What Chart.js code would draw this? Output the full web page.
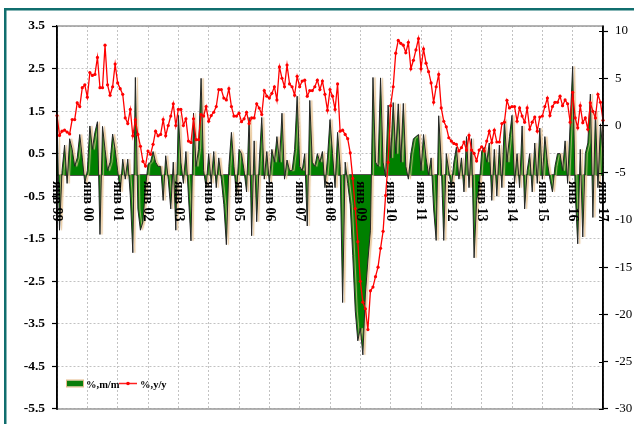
<!DOCTYPE html>
<html>
<head>
<meta charset="utf-8">
<script src="https://cdn.jsdelivr.net/npm/chart.js@4.4.0/dist/chart.umd.min.js"></script>
<style>
html,body{margin:0;padding:0;background:#fff;}
#wrap{width:634px;height:424px;position:relative;}
</style>
</head>
<body>
<div id="wrap"><canvas id="c" width="634" height="424"></canvas></div>
<script>
// ---- data ----
const monthNames = ['янв','фев','мар','апр','май','июн','июл','авг','сен','окт','ноя','дек'];
const categories = [];
for (let y = 1999; y <= 2017; y++) {
  for (let m = 0; m < 12; m++) {
    if (y === 2017 && m > 0) break;
    categories.push(monthNames[m] + ' ' + String(y % 100).padStart(2, '0'));
  }
}
const yearTickLabels = ['янв 99','янв 00','янв 01','янв 02','янв 03','янв 04','янв 05','янв 06','янв 07','янв 08','янв 09','янв 10','янв 11','янв 12','янв 13','янв 14','янв 15','янв 16','янв 17'];
const leftTicks = [-5.5,-4.5,-3.5,-2.5,-1.5,-0.5,0.5,1.5,2.5,3.5];
const rightTicks = [-30,-25,-20,-15,-10,-5,0,5,10];

// %, m/m (left axis)
const seriesMM = [
  1.4,-1.3,0.1,0.7,-0.2,0.85,0.6,0.2,0.4,0.95,0.4,-0.2,
  0.1,1.15,0.6,1.0,1.25,-1.4,1.14,0.6,0.1,0.3,0.96,0.6,
  0.1,-0.4,0.37,-0.1,0.37,-0.5,-1.83,2.29,-0.8,-1.3,-1.1,-0.3,
  0.25,0.3,0.55,0.3,0.2,0.2,-0.6,0.45,-0.1,-0.8,0.3,-1.3,
  1.4,0.3,-0.2,0.55,-0.5,-1.55,1.45,0.2,0.6,2.27,0.1,-0.3,
  0.5,-0.2,0.55,-0.3,0.4,-0.1,-0.7,-1.64,0.2,1.0,0.2,-0.5,
  0.6,0.5,0.1,-0.4,1.35,-1.43,0.8,-1.1,0.3,1.35,-0.1,0.55,
  -0.2,0.6,0.3,0.9,0.3,1.45,-0.1,0.35,0.1,0.1,0.6,1.85,
  0.2,0.1,0.5,-1.2,1.75,0.3,0.2,0.5,0.3,0.55,-0.3,0.4,
  1.3,0.5,-0.3,1.0,0.2,-3.0,0.3,-0.2,-0.7,-1.9,-3.2,-3.9,
  -3.6,-4.23,-2.8,-2.0,-1.3,2.29,0.3,0.2,2.28,0.3,-0.05,1.64,
  0.4,1.7,0.5,1.67,0.3,1.68,0.2,-0.1,0.5,0.85,0.9,0.95,
  0.1,0.95,0.4,0.0,0.4,-0.8,-1.54,1.39,0.3,-1.54,0.5,0.1,
  -0.3,0.3,0.65,-0.1,0.4,-0.4,0.9,-0.3,0.85,-1.95,-0.6,-0.3,
  0.55,0.65,0.3,0.75,-0.6,0.6,-0.5,0.7,-0.3,1.3,0.3,0.9,
  1.4,-0.2,0.5,-0.3,1.15,-0.8,0.1,0.5,-0.4,0.75,-0.2,1.1,
  -0.1,0.9,0.3,-0.1,-0.4,0.2,0.5,0.5,0.1,0.8,-0.2,1.2,
  2.55,-0.4,-1.62,0.6,-1.46,0.5,0.75,1.9,-1.0,1.5,-0.3,1.2,
  0.5
];

// %, y/y (right axis)
const seriesYY = [
  1.05,-1.05,-0.6,-0.5,-0.7,-0.9,0.63,0.63,2.4,2.0,4.0,4.3,
  3.0,5.6,5.3,5.4,7.2,4.0,4.0,8.5,4.3,3.2,4.1,6.5,
  4.5,3.9,3.3,0.8,0.2,1.7,-1.1,0.6,-0.95,-2.2,-3.8,-4.3,
  -2.7,-3.05,-2.0,-0.6,-1.1,-0.95,0.63,-1.1,0,1.0,2.3,0,
  1.7,1.7,0,0.7,-1.65,-1.8,0.7,-1.5,-1.5,1.16,1.0,2.0,
  0.45,1.05,1.4,2.0,3.8,3.8,2.9,2.7,3.9,2.0,1.0,1.0,
  1.3,0.4,0.7,1.4,0.2,0.8,0.8,2.3,1.85,1.16,3.7,3.1,
  2.9,3.4,4.1,2.7,6.2,5.0,4.1,6.4,4.4,4.1,3.2,5.2,
  4.1,4.7,4.8,3.1,3.7,3.7,4.1,4.8,3.8,4.7,3.3,1.6,
  3.8,3.1,1.7,4.4,-0.6,-0.5,-0.95,-1.4,-2.9,-5.6,-8.8,-12.3,
  -16.5,-18.7,-19.4,-21.6,-17.5,-17.1,-16.0,-15.0,-13.0,-11.2,-7.4,-3.9,
  2.1,4.1,7.65,9.0,8.7,8.5,7.7,8.8,6.0,6.9,8.0,9.2,
  6.0,8.1,6.6,5.7,4.5,2.45,4.1,5.4,1.86,0.45,-0.14,-1.3,
  -1.65,-1.9,-2.0,-2.7,-2.35,-1.75,-2.6,-1.05,-2.6,-2.95,-3.75,-2.6,
  -2.25,-2.7,-1.65,-0.6,-1.8,-0.5,-1.75,-1.75,0.2,0.35,2.66,1.86,
  2.0,2.0,0.45,1.86,1.0,0.35,1.86,-0.4,0.35,0.9,-0.6,0.9,
  1.0,2.0,2.9,1.05,2.0,2.45,2.45,3.1,2.1,2.7,2.3,0.35,
  3.5,0.8,-0.25,2.1,0.3,0.8,-0.4,2.4,1.5,0.8,3.3,2.45,
  0.55
];
const seriesNames = ['%,m/m', '%,y/y'];

// ---- drawing ----
const SERIF = '"Liberation Serif", "Times New Roman", serif';

const decorPlugin = {
  id: 'decor',
  beforeDatasetsDraw(chart) {
    const ctx = chart.ctx;
    ctx.save();
    ctx.shadowColor = 'rgba(232,198,150,0.85)';
    ctx.shadowOffsetX = 2;
    ctx.shadowOffsetY = 0;
    ctx.shadowBlur = 1;
  },
  afterDatasetDraw(chart, args) {
    if (args.index === 0) {
      chart.ctx.restore();
    }
  },
  afterDraw(chart) {
    const ctx = chart.ctx;
    const a = chart.chartArea;
    const xs = chart.scales.x, ys = chart.scales.y, yr = chart.scales.y1;
    ctx.save();
    ctx.shadowColor = 'rgba(0,0,0,0)';
    // top & bottom borders of the plot
    ctx.strokeStyle = '#9a9a9a';
    ctx.lineWidth = 1.5;
    ctx.beginPath();
    ctx.moveTo(a.left, a.top); ctx.lineTo(a.right, a.top);
    ctx.moveTo(a.left, a.bottom); ctx.lineTo(a.right, a.bottom);
    ctx.stroke();
    // left & right axis lines on top
    ctx.strokeStyle = '#000';
    ctx.lineWidth = 1.5;
    ctx.beginPath();
    ctx.moveTo(a.left, a.top); ctx.lineTo(a.left, a.bottom + 1);
    ctx.moveTo(a.right, a.top); ctx.lineTo(a.right, a.bottom + 1);
    ctx.stroke();
    // inward ticks on right axis
    ctx.lineWidth = 1.2;
    ctx.beginPath();
    rightTicks.forEach(v => {
      const y = Math.round(yr.getPixelForValue(v)) + 0.5;
      ctx.moveTo(a.right - 4, y); ctx.lineTo(a.right, y);
    });
    ctx.stroke();
    // rotated year labels along the zero line
    const y0 = ys.getPixelForValue(0);
    ctx.fillStyle = '#000';
    ctx.font = 'bold 14px ' + SERIF;
    ctx.textAlign = 'left';
    ctx.textBaseline = 'middle';
    yearTickLabels.forEach(lbl => {
      const idx = categories.indexOf(lbl);
      const x = xs.getPixelForValue(idx);
      ctx.save();
      ctx.translate(x, y0 + 6);
      ctx.rotate(Math.PI / 2);
      ctx.fillText(lbl, 0, 0);
      ctx.restore();
    });
    // legend inside plot
    const ly = 383.5;
    ctx.fillStyle = '#0a7d0a';
    ctx.fillRect(67, ly - 3, 16, 6);
    ctx.strokeStyle = '#e6b98a';
    ctx.lineWidth = 1;
    ctx.strokeRect(66.5, ly - 3.5, 17, 7);
    ctx.fillStyle = '#000';
    ctx.font = 'bold 10.5px ' + SERIF;
    ctx.textAlign = 'left';
    ctx.textBaseline = 'alphabetic';
    ctx.fillText(seriesNames[0], 86, ly + 4);
    ctx.strokeStyle = '#ff2020';
    ctx.lineWidth = 1.5;
    ctx.beginPath(); ctx.moveTo(119, ly); ctx.lineTo(137, ly); ctx.stroke();
    ctx.fillStyle = '#ff0000';
    ctx.beginPath(); ctx.arc(128, ly, 1.8, 0, Math.PI * 2); ctx.fill();
    ctx.fillStyle = '#000';
    ctx.fillText(seriesNames[1], 140, ly + 4);
    // outer teal frame
    ctx.strokeStyle = '#106e6e';
    ctx.lineWidth = 2.5;
    ctx.strokeRect(5.25, 9.25, 700, 500);
    ctx.restore();
  }
};

new Chart(document.getElementById('c'), {
  type: 'line',
  data: {
    labels: categories,
    datasets: [
      {
        label: seriesNames[0],
        data: seriesMM,
        yAxisID: 'y',
        order: 2,
        fill: 'origin',
        backgroundColor: '#008000',
        borderColor: '#262626',
        borderWidth: 1,
        pointRadius: 0,
        tension: 0
      },
      {
        label: seriesNames[1],
        data: seriesYY,
        yAxisID: 'y1',
        order: 1,
        fill: false,
        borderColor: '#ff0000',
        borderWidth: 1.3,
        pointRadius: 1.6,
        pointBackgroundColor: '#ff0000',
        pointBorderWidth: 0,
        tension: 0
      }
    ]
  },
  options: {
    responsive: false,
    animation: false,
    devicePixelRatio: 1,
    layout: { padding: { top: 26, bottom: 13.5, left: 0, right: 0 } },
    plugins: { legend: { display: false }, tooltip: { enabled: false } },
    scales: {
      x: {
        type: 'category',
        position: { y: 0 },
        ticks: { display: false },
        grid: {
          color: (c) => (c.index % 12 === 0 ? '#c2c2c2' : 'rgba(0,0,0,0)'),
          lineWidth: 1,
          drawTicks: false
        },
        border: { display: true, color: '#4a4a4a', width: 2, dash: [2, 2] }
      },
      y: {
        position: 'left',
        min: -5.5,
        max: 3.5,
        afterBuildTicks: (s) => { s.ticks = leftTicks.map(v => ({ value: v })); },
        afterFit: (s) => { s.width = 57; },
        ticks: {
          color: '#000',
          font: { family: SERIF, size: 13.5, weight: 'bold' },
          padding: 7,
          callback: (v) => v.toFixed(1)
        },
        grid: { color: '#c2c2c2', lineWidth: 1, tickLength: 5, tickColor: '#000', tickWidth: 1.2 },
        border: { display: true, color: '#000', width: 1.5, dash: [2, 2] }
      },
      y1: {
        position: 'right',
        min: -30,
        max: 10.53,
        afterBuildTicks: (s) => { s.ticks = rightTicks.map(v => ({ value: v })); },
        afterFit: (s) => { s.width = 31; },
        ticks: {
          color: '#000',
          font: { family: SERIF, size: 13 },
          padding: 7,
          callback: (v) => String(v)
        },
        grid: { drawOnChartArea: false, tickLength: 5, tickColor: '#000', tickWidth: 1.2 },
        border: { display: true, color: '#000', width: 1.5 }
      }
    }
  },
  plugins: [decorPlugin]
});
</script>
</body>
</html>
